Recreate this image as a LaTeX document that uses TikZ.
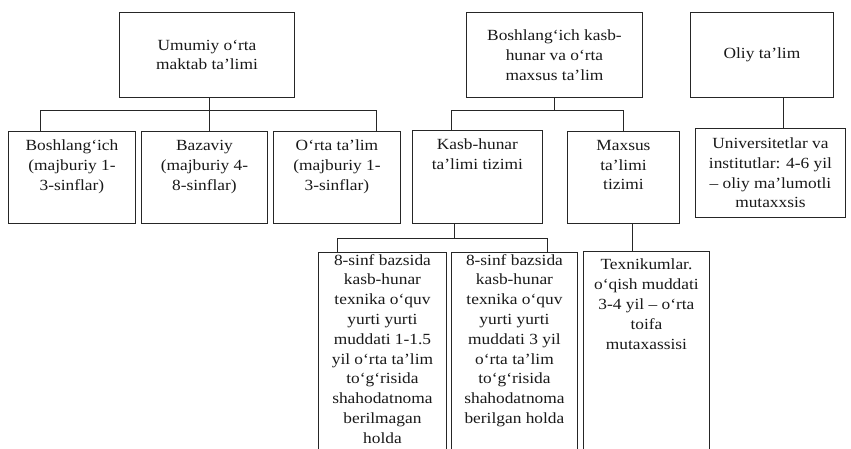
\documentclass[tikz,border=0pt]{standalone}
\usepackage{fontspec}
\setmainfont[FakeStretch=1.12]{Liberation Serif}
\begin{document}
\begin{tikzpicture}[x=1pt,y=-1pt,
  bx/.style={draw=black!85, line width=0.9pt, anchor=north west, inner sep=0pt, fill=white},
  txt/.style={font=\fontsize{15.5}{19.8}\selectfont, align=center, inner sep=0pt, text=black!90},
  ln/.style={draw=black!85, line width=0.9pt}]
\useasboundingbox (0,0) rectangle (851,448);
\clip (0,0) rectangle (851,448);
\fill[white] (0,0) rectangle (851,448);
% top row
\node[bx, minimum width=175, minimum height=85] (A) at (119,12) {};
\node[txt] (At) at (A.center) {Umumiy o‘rta\\maktab ta’limi};
\node[bx, minimum width=176, minimum height=85] (B) at (466,12) {};
\node[txt] (Bt) at (B.center) {Boshlang‘ich kasb-\\hunar va o‘rta\\maxsus ta’lim};
\node[bx, minimum width=143, minimum height=85] (C) at (690,12) {};
\node[txt] (Ct) at (C.center) {Oliy ta’lim};
% second row
\node[bx, minimum width=127, minimum height=92] (A1) at (8,131) {};
\node[txt, anchor=north] (A1t) at ([yshift=-9pt]A1.north) {Boshlang‘ich\\(majburiy 1-\\3-sinflar)};
\node[bx, minimum width=126, minimum height=92] (A2) at (141,131) {};
\node[txt, anchor=north] (A2t) at ([yshift=-9pt]A2.north) {Bazaviy\\(majburiy 4-\\8-sinflar)};
\node[bx, minimum width=127, minimum height=92] (A3) at (273,131) {};
\node[txt, anchor=north] (A3t) at ([yshift=-9pt]A3.north) {O‘rta ta’lim\\(majburiy 1-\\3-sinflar)};
\node[bx, minimum width=130, minimum height=93] (B1) at (412,130) {};
\node[txt, anchor=north] (B1t) at ([yshift=-9pt]B1.north) {Kasb-hunar\\ta’limi tizimi};
\node[bx, minimum width=112, minimum height=92] (B2) at (567,131) {};
\node[txt, anchor=north] (B2t) at ([yshift=-9pt]B2.north) {Maxsus\\ta’limi\\tizimi};
\node[bx, minimum width=150, minimum height=89] (C1) at (695,128) {};
\node[txt] (C1t) at (C1.center) {Universitetlar va\\institutlar: 4-6 yil\\– oliy ma’lumotli\\mutaxxsis};
% third row
\node[bx, minimum width=128, minimum height=220] (D1) at (318,252) {};
\node[txt, anchor=north] (D1t) at ([yshift=-2pt]D1.north) {8-sinf bazsida\\kasb-hunar\\texnika o‘quv\\yurti yurti\\muddati 1-1.5\\yil o‘rta ta’lim\\to‘g‘risida\\shahodatnoma\\berilmagan\\holda};
\node[bx, minimum width=126, minimum height=220] (D2) at (451,252) {};
\node[txt, anchor=north] (D2t) at ([yshift=-2pt]D2.north) {8-sinf bazsida\\kasb-hunar\\texnika o‘quv\\yurti yurti\\muddati 3 yil\\o‘rta ta’lim\\to‘g‘risida\\shahodatnoma\\berilgan holda};
\node[bx, minimum width=126, minimum height=220] (D3) at (583,251) {};
\node[txt, anchor=north] (D3t) at ([yshift=-8pt]D3.north) {Texnikumlar.\\o‘qish muddati\\3-4 yil – o‘rta\\toifa\\mutaxassisi};
% connectors
\coordinate (a0) at (209,110);
\draw[ln] (A.south -| a0) -- (a0);
\draw[ln] (A1.north -| 40,0) -- (40,110) -- (376,110) -- (A3.north -| 376,0);
\draw[ln] (a0) -- (A2.north -| a0);
\draw[ln] (B.south) -- (B.south |- 0,110);
\draw[ln] (B1.north -| 451,0) -- (451,110) -- (623,110) -- (B2.north -| 623,0);
\draw[ln] (C.south -| 783,0) -- (C1.north -| 783,0);
\draw[ln] (B1.south -| 454,0) -- (454,238);
\draw[ln] (D1.north -| 337,0) -- (337,238) -- (547,238) -- (D2.north -| 547,0);
\draw[ln] (B2.south -| 632,0) -- (D3.north -| 632,0);
\end{tikzpicture}
\end{document}
